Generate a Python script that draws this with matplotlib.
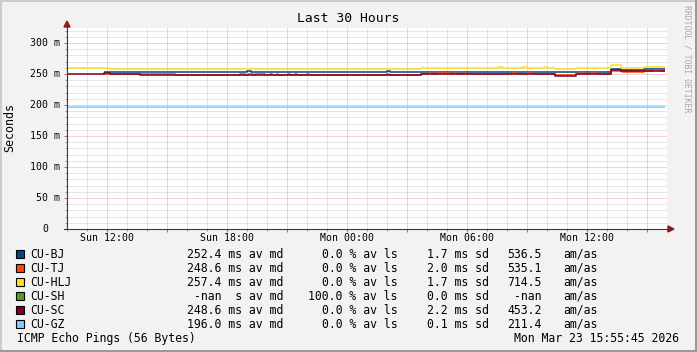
import numpy as np
import matplotlib
matplotlib.use('Agg')
import matplotlib.pyplot as plt
from matplotlib.patches import Rectangle, Polygon
from matplotlib.lines import Line2D

# time axis: hours since Sun 10:00
x_ticks = [2, 8, 14, 20, 26]
x_labels = ['Sun 12:00', 'Sun 18:00', 'Mon 00:00', 'Mon 06:00', 'Mon 12:00']
y_ticks = [0, 50, 100, 150, 200, 250, 300]
y_labels = ['0  ', '50 m', '100 m', '150 m', '200 m', '250 m', '300 m']

# median RTT (ms), step series
bj_t = [1.85, 9.0, 9.2, 16.0, 16.15, 26.1, 27.2, 27.7, 28.85, 29.9]
bj_v = [252.7, 255.0, 252.7, 255.0, 252.7, 254.0, 258.0, 256.0, 258.0, 258.0]

tj_t = [1.85, 2.15, 5.4, 8.65, 8.9, 9.05, 9.3, 9.4, 9.9, 10.15, 10.25, 10.5, 10.55,
        11.05, 11.15, 11.4, 11.5, 12.0, 12.1, 16.0, 16.1, 17.7, 18.05, 18.25, 18.5,
        19.15, 19.3, 19.5, 19.8, 20.0, 22.25, 22.5, 23.0, 23.25, 24.4, 25.45, 25.65,
        25.9, 26.15, 26.5, 27.2, 27.75, 28.85, 29.3, 29.65, 29.9]
tj_v = [250.8, 250.0, 248.4, 249.8, 248.4, 249.8, 248.4, 249.8, 248.4, 249.8, 248.4,
        249.8, 248.4, 249.8, 248.4, 249.8, 248.4, 249.8, 248.4, 249.8, 248.4, 249.8,
        251.2, 249.8, 251.2, 249.8, 251.2, 249.8, 251.2, 249.8, 251.2, 249.8, 251.2,
        249.8, 248.4, 249.8, 251.2, 249.8, 251.2, 249.8, 255.2, 253.6, 254.4, 256.0,
        254.4, 254.4]

hlj_t = [0, 2.15, 17.7, 21.55, 21.8, 22.75, 23.0, 23.85, 24.0, 24.4, 25.45, 27.2,
         27.7, 28.85, 29.9]
hlj_v = [259.2, 257.6, 259.2, 260.8, 259.2, 260.8, 259.2, 260.8, 259.2, 257.6, 259.2,
         264.3, 259.2, 261.8, 261.8]

sh_t = []
sh_v = []

sc_t = [0, 1.85, 2.15, 3.65, 17.7, 24.4, 25.45, 27.2, 27.7, 28.85, 29.9]
sc_v = [250.5, 251.5, 249.8, 248.4, 249.8, 247.2, 249.8, 256.5, 254.4, 255.5, 255.5]

gz_t = [0, 10.75, 10.9, 29.9]
gz_v = [196.3, 197.5, 196.3, 196.3]

names = ['CU-BJ', 'CU-TJ', 'CU-HLJ', 'CU-SH', 'CU-SC', 'CU-GZ']
colors = ['#004586', '#ff420e', '#ffde20', '#579d1c', '#7e0021', '#83caff']
med = ['252.4 ms av md', '248.6 ms av md', '257.4 ms av md', '-nan  s av md',
       '248.6 ms av md', '196.0 ms av md']
loss = ['0.0 % av ls', '0.0 % av ls', '0.0 % av ls', '100.0 % av ls',
        '0.0 % av ls', '0.0 % av ls']
sd = ['1.7 ms sd', '2.0 ms sd', '1.7 ms sd', '0.0 ms sd', '2.2 ms sd', '0.1 ms sd']
amas = ['536.5', '535.1', '714.5', '-nan', '453.2', '211.4']

W, H = 697, 352
MONO = 'DejaVu Sans Mono'


def fx(x):
    return x / W


def fy(y):
    return 1 - y / H


fig = plt.figure(figsize=(W / 100, H / 100), dpi=100, facecolor='#f2f2f2')

# plot area 67..667 px wide, 0 at y=229
top_px = 27.5
ax = fig.add_axes([fx(67), fy(229), 600 / W, (229 - top_px) / H])
ax.set_facecolor('white')
ax.set_xlim(0, 30)
ax.set_ylim(0, 325)

dot = (0, (1, 1))
ax.set_xticks(np.arange(2, 30, 3))
ax.set_xticks(np.arange(0, 31, 1), minor=True)
ax.set_yticks(np.arange(0, 301, 50))
ax.set_yticks(np.arange(0, 321, 10), minor=True)
ax.grid(which='minor', color='#cdcdcd', linestyle=dot, linewidth=0.72)
ax.grid(which='major', color='#e6a6a6', linestyle=dot, linewidth=0.72)
ax.set_axisbelow(True)
ax.set_xticklabels([])
ax.set_yticklabels([])
ax.tick_params(which='major', direction='out', length=2.5, width=0.72, color='#b07070')
ax.tick_params(which='minor', direction='out', length=1.5, width=0.72, color='#999999')
for s in ax.spines.values():
    s.set_visible(False)

series = [(bj_t, bj_v), (tj_t, tj_v), (hlj_t, hlj_v), (sh_t, sh_v), (sc_t, sc_v), (gz_t, gz_v)]
for (t, v), c in zip(series, colors):
    if len(t):
        ax.plot(t, v, drawstyle='steps-post', color=c, linewidth=1.1, solid_capstyle='butt')

# tick labels
for v, lab in zip(y_ticks, y_labels):
    if lab.strip() == '0':
        ax.text((48 - 67) / 600, v, '0', transform=ax.get_yaxis_transform(),
                ha='right', va='center', fontsize=7.1, family=MONO)
    else:
        ax.text((60 - 67) / 600, v, lab, transform=ax.get_yaxis_transform(),
                ha='right', va='center', fontsize=7.1, family=MONO)
for t, lab in zip(x_ticks, x_labels):
    ax.text(t, -9 / (229 - top_px), lab, transform=ax.get_xaxis_transform(),
            ha='center', va='center', fontsize=7.1, family=MONO)

# axes with arrows
axis_c = '#3a3a3a'
arrow_c = '#8b1c1c'
fig.add_artist(Line2D([fx(67), fx(67)], [fy(229), fy(25)], color=axis_c, lw=0.8))
fig.add_artist(Line2D([fx(64), fx(670)], [fy(229), fy(229)], color=axis_c, lw=0.8))
fig.add_artist(Polygon([[fx(64), fy(27)], [fx(70), fy(27)], [fx(67), fy(21)]],
                       closed=True, color=arrow_c, transform=fig.transFigure))
fig.add_artist(Polygon([[fx(668), fy(226)], [fx(668), fy(232)], [fx(674), fy(229)]],
                       closed=True, color=arrow_c, transform=fig.transFigure))

# texts
fig.text(fx(348), fy(19), 'Last 30 Hours', ha='center', va='center', fontsize=9.4, family=MONO)
fig.text(fx(10), fy(127.5), 'Seconds', rotation=90, ha='center', va='center',
         fontsize=8.4, family=MONO)
fig.text(fx(687), fy(59), 'RRDTOOL / TOBI OETIKER', rotation=270, ha='center',
         va='center', fontsize=5.9, family=MONO, color='#a8a8a8')

# legend
for i in range(6):
    yc = 254.3 + 14 * i
    fig.add_artist(Rectangle((fx(15.5), fy(yc + 4)), 8 / W, 8 / H,
                             facecolor=colors[i], edgecolor='black', linewidth=0.8,
                             transform=fig.transFigure))
    kw = dict(va='center', fontsize=8.3, family=MONO)
    fig.text(fx(30), fy(yc), names[i], ha='left', **kw)
    fig.text(fx(283), fy(yc), med[i], ha='right', **kw)
    fig.text(fx(397.5), fy(yc), loss[i], ha='right', **kw)
    fig.text(fx(488.5), fy(yc), sd[i], ha='right', **kw)
    fig.text(fx(542), fy(yc), amas[i], ha='right', **kw)
    fig.text(fx(563.5), fy(yc), 'am/as', ha='left', **kw)

fig.text(fx(16.7), fy(338.3), 'ICMP Echo Pings (56 Bytes)', ha='left', va='center',
         fontsize=8.3, family=MONO)
fig.text(fx(679.5), fy(338.3), 'Mon Mar 23 15:55:45 2026', ha='right', va='center',
         fontsize=8.3, family=MONO)

# shaded frame
fig.add_artist(Line2D([0, 1], [fy(1), fy(1)], color='#cbcbcb', lw=1.45))
fig.add_artist(Line2D([fx(1), fx(1)], [0, 1], color='#cbcbcb', lw=1.45))
fig.add_artist(Line2D([0, 1], [fy(351), fy(351)], color='#999999', lw=1.45))
fig.add_artist(Line2D([fx(696), fx(696)], [0, 1], color='#999999', lw=1.45))

fig.savefig('out.png', dpi=100, facecolor=fig.get_facecolor())
